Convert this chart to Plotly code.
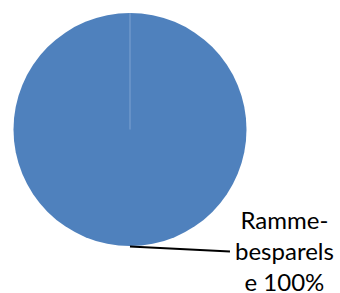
import plotly.graph_objects as go

labels = ["Ramme-besparelse"]
values = [100]
label_lines = ["Ramme-", "besparels", "e 100%"]

W, H = 340, 293
cx, cy, r = 130, 129.5, 116.5

fig = go.Figure(go.Pie(
    labels=labels, values=values,
    marker=dict(colors=["#4F81BD"], line=dict(color="#4F81BD", width=0)),
    textinfo="none", sort=False, direction="clockwise", rotation=0,
    domain=dict(x=[(cx - r) / W, (cx + r) / W], y=[1 - (cy + r) / H, 1 - (cy - r) / H]),
    showlegend=False, hoverinfo="label+percent",
))

# faint slice boundary from center to top
fig.add_shape(type="line", xref="paper", yref="paper",
              x0=cx / W, y0=1 - cy / H, x1=cx / W, y1=1 - (cy - r) / H,
              line=dict(color="#7FA2D1", width=1))
# leader line
fig.add_shape(type="line", xref="paper", yref="paper",
              x0=cx / W, y0=1 - 246.5 / H, x1=230 / W, y1=1 - 251.5 / H,
              line=dict(color="black", width=2))

pct = round(values[0] / sum(values) * 100)
text = "<br>".join(label_lines[:-1] + [label_lines[-1].split(" ")[0] + " " + f"{pct}%"])
fig.add_annotation(text=text, xref="paper", yref="paper", x=284 / W, y=1 - 250 / H,
                   xanchor="center", yanchor="middle", showarrow=False, align="center",
                   font=dict(family="Lato, Carlito, sans-serif", size=24, color="black"))

fig.update_layout(width=W, height=H, margin=dict(l=0, r=0, t=0, b=0),
                  paper_bgcolor="white", plot_bgcolor="white")
fig.write_html("out.html", config={"displayModeBar": False},
               post_script="document.body.style.margin='0';document.body.style.padding='0';")
